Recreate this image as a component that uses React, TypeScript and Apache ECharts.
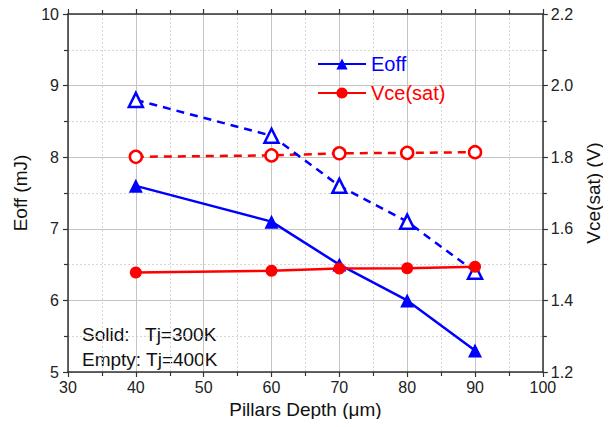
import React, { useEffect, useRef } from "react";
import * as echarts from "echarts";

const depths = [40, 60, 70, 80, 90];
const eoff300 = [7.6, 7.1, 6.5, 6.0, 5.3];
const eoff400 = [8.8, 8.3, 7.6, 7.1, 6.4];
const vce300 = [1.478, 1.483, 1.489, 1.49, 1.494];
const vce400 = [1.801, 1.805, 1.811, 1.812, 1.814];

const BLUE = "#0000ff";
const RED = "#ff0000";
const FONT = "Liberation Sans, Arial, sans-serif";

const pairs = (xs: number[], ys: number[]) => xs.map((x, i) => [x, ys[i]]);

export default function App() {
  const ref = useRef<HTMLDivElement>(null);
  useEffect(() => {
    if (!ref.current) return;
    const chart = echarts.init(ref.current, undefined, { renderer: "svg" });
    const axisLine = { show: true, lineStyle: { color: "#333", width: 1.5 } };
    const tickStyle = { color: "#333", width: 1.2 };
    const nameStyle = { fontSize: 19, color: "#111", fontFamily: FONT };
    chart.setOption({
      animation: false,
      backgroundColor: "#fff",
      textStyle: { fontFamily: FONT },
      grid: { left: 68, right: 55, top: 14, bottom: 55 },
      legend: {
        orient: "vertical",
        left: 312,
        top: 49,
        itemWidth: 48,
        itemHeight: 14,
        itemGap: 9,
        textStyle: { fontSize: 20, fontFamily: FONT },
        data: [
          { name: "Eoff", textStyle: { color: BLUE } },
          { name: "Vce(sat)", textStyle: { color: RED } },
        ],
      },
      xAxis: [
        {
          type: "value",
          min: 30,
          max: 100,
          interval: 10,
          position: "bottom",
          axisLine,
          axisTick: { show: true, inside: false, length: 5, lineStyle: tickStyle },
          minorTick: { show: true, splitNumber: 2, length: 4, lineStyle: tickStyle },
          splitLine: { show: true, lineStyle: { color: "#c4c4c4", width: 1 } },
          minorSplitLine: { show: true, lineStyle: { color: "#d6d6d6", type: [2, 2], width: 1 } },
          axisLabel: { fontSize: 16, color: "#222", margin: 7, fontFamily: FONT },
          name: "Pillars Depth (μm)",
          nameLocation: "middle",
          nameGap: 28,
          nameTextStyle: nameStyle,
        },
        {
          type: "value",
          min: 30,
          max: 100,
          interval: 10,
          position: "top",
          axisLine,
          axisTick: { show: true, inside: false, length: 5, lineStyle: tickStyle },
          minorTick: { show: true, splitNumber: 2, length: 4, lineStyle: tickStyle },
          splitLine: { show: false },
          axisLabel: { show: false },
        },
      ],
      yAxis: [
        {
          type: "value",
          min: 5,
          max: 10,
          interval: 1,
          position: "left",
          axisLine,
          axisTick: { show: true, inside: false, length: 5, lineStyle: tickStyle },
          minorTick: { show: true, splitNumber: 2, length: 4, lineStyle: tickStyle },
          splitLine: { show: true, lineStyle: { color: "#c4c4c4", width: 1 } },
          minorSplitLine: { show: true, lineStyle: { color: "#d6d6d6", type: [2, 2], width: 1 } },
          axisLabel: { fontSize: 16, color: "#222", margin: 9, fontFamily: FONT },
          name: "Eoff (mJ)",
          nameLocation: "middle",
          nameRotate: 90,
          nameGap: 34,
          nameTextStyle: nameStyle,
        },
        {
          type: "value",
          min: 1.2,
          max: 2.2,
          interval: 0.2,
          position: "right",
          axisLine,
          axisTick: { show: true, inside: false, length: 5, lineStyle: tickStyle },
          minorTick: { show: true, splitNumber: 2, length: 4, lineStyle: tickStyle },
          splitLine: { show: false },
          axisLabel: {
            fontSize: 16,
            color: "#222",
            margin: 8,
            fontFamily: FONT,
            formatter: (v: number) => v.toFixed(1),
          },
          name: "Vce(sat) (V)",
          nameLocation: "middle",
          nameRotate: 90,
          nameGap: 33,
          nameTextStyle: nameStyle,
        },
      ],
      series: [
        {
          name: "Eoff",
          type: "line",
          yAxisIndex: 0,
          data: pairs(depths, eoff300),
          symbol: "triangle",
          symbolSize: 14,
          lineStyle: { color: BLUE, width: 2.5 },
          itemStyle: { color: BLUE },
          z: 4,
        },
        {
          name: "Eoff 400K",
          type: "line",
          yAxisIndex: 0,
          data: pairs(depths, eoff400),
          symbol: "triangle",
          symbolSize: 14,
          lineStyle: { color: BLUE, width: 2.5, type: [8, 6] },
          itemStyle: { color: "#fff", borderColor: BLUE, borderWidth: 2.5 },
          z: 3,
        },
        {
          name: "Vce(sat)",
          type: "line",
          yAxisIndex: 1,
          data: pairs(depths, vce300),
          symbol: "circle",
          symbolSize: 12,
          lineStyle: { color: RED, width: 2.5 },
          itemStyle: { color: RED },
          z: 5,
        },
        {
          name: "Vce(sat) 400K",
          type: "line",
          yAxisIndex: 1,
          data: pairs(depths, vce400),
          symbol: "circle",
          symbolSize: 12,
          lineStyle: { color: RED, width: 2.5, type: [8, 6] },
          itemStyle: { color: "#fff", borderColor: RED, borderWidth: 2.5 },
          z: 2,
        },
      ],
      graphic: [
        {
          type: "text",
          left: 82,
          top: 325,
          style: { text: "Solid:   Tj=300K", fontSize: 19, fill: "#111", fontFamily: FONT },
        },
        {
          type: "text",
          left: 82,
          top: 350,
          style: { text: "Empty: Tj=400K", fontSize: 19, fill: "#111", fontFamily: FONT },
        },
      ],
    });
    return () => chart.dispose();
  }, []);
  return <div ref={ref} style={{ width: 611, height: 427, margin: -8 }} />;
}
